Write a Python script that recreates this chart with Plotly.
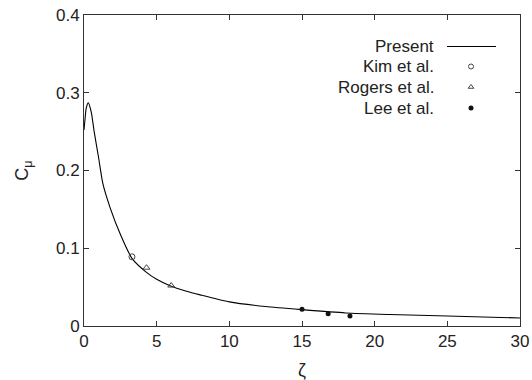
import plotly.graph_objects as go

# Present model curve
zeta_present = [0, 0.08, 0.15, 0.3, 0.5, 0.7, 1.0, 1.3, 1.8, 2.5, 3.3, 4.3, 5.0, 6.0, 7.0, 8.0,
                10.0, 12.5, 15.0, 18.0, 21.0, 25.0, 30.0]
cmu_present = [0.252, 0.268, 0.280, 0.287, 0.275, 0.250, 0.217, 0.183, 0.152, 0.118, 0.087,
               0.069, 0.060, 0.051, 0.045, 0.040, 0.031, 0.025, 0.0210, 0.0168, 0.0148,
               0.0129, 0.0103]

zeta_kim = [3.3]
cmu_kim = [0.089]

zeta_rogers = [4.3, 6.0]
cmu_rogers = [0.075, 0.052]

zeta_lee = [15.0, 16.8, 18.3]
cmu_lee = [0.0215, 0.0158, 0.0129]

legend_names = ["Present", "Kim et al.", "Rogers et al.", "Lee et al."]

x_ticks = [0, 5, 10, 15, 20, 25, 30]
y_ticks = [0, 0.1, 0.2, 0.3, 0.4]

W, H = 532, 380
ML, MR, MT, MB = 84, 12, 15, 54
ink = "#222222"
font = "Liberation Sans, Arial, sans-serif"

fig = go.Figure()
fig.add_trace(go.Scatter(x=zeta_present, y=cmu_present, mode="lines",
                         line=dict(color="black", width=1.1, shape="spline", smoothing=0.6),
                         showlegend=False))
fig.add_trace(go.Scatter(x=zeta_kim, y=cmu_kim, mode="markers",
                         marker=dict(symbol="circle-open", size=6, color="#444",
                                     line=dict(width=1, color="#444")), showlegend=False))
fig.add_trace(go.Scatter(x=zeta_rogers, y=cmu_rogers, mode="markers",
                         marker=dict(symbol="triangle-up-open", size=6, color="#444",
                                     line=dict(width=1, color="#444")), showlegend=False))
fig.add_trace(go.Scatter(x=zeta_lee, y=cmu_lee, mode="markers",
                         marker=dict(symbol="circle", size=5, color="#111"), showlegend=False))

# Custom legend (text left of key), in an overlay axis with pixel-like range
pw, ph = W - ML - MR, H - MT - MB
def px_x(x):
    return (x - ML) / pw
def px_y(y):
    return (H - MB - y) / ph

rows_y = [46.5, 66.5, 87, 108]
text_right = 436
key_x = 471
for name, yy in zip(legend_names, rows_y):
    fig.add_annotation(x=px_x(text_right), y=px_y(yy), xref="paper", yref="paper",
                       text=name, showarrow=False, xanchor="right", yanchor="middle",
                       font=dict(family=font, size=17, color=ink))
fig.add_shape(type="line", xref="paper", yref="paper",
              x0=px_x(447), x1=px_x(496), y0=px_y(rows_y[0]), y1=px_y(rows_y[0]),
              line=dict(color="black", width=1.1))
fig.add_trace(go.Scatter(x=[px_x(key_x)], y=[px_y(rows_y[1])], xaxis="x2", yaxis="y2",
                         mode="markers", showlegend=False,
                         marker=dict(symbol="circle-open", size=5, color="#444",
                                     line=dict(width=1, color="#444"))))
fig.add_trace(go.Scatter(x=[px_x(key_x)], y=[px_y(rows_y[2])], xaxis="x2", yaxis="y2",
                         mode="markers", showlegend=False,
                         marker=dict(symbol="triangle-up-open", size=5, color="#444",
                                     line=dict(width=1, color="#444"))))
fig.add_trace(go.Scatter(x=[px_x(key_x)], y=[px_y(rows_y[3])], xaxis="x2", yaxis="y2",
                         mode="markers", showlegend=False,
                         marker=dict(symbol="circle", size=5, color="#111")))

axis_common = dict(showgrid=False, zeroline=False, showline=True, linecolor="#333",
                   linewidth=1, mirror="ticks", ticks="inside", ticklen=5, tickcolor="#333",
                   automargin=False,
                   tickfont=dict(family=font, size=17, color=ink))

fig.update_layout(
    width=W, height=H,
    margin=dict(l=ML, r=MR, t=MT, b=MB),
    paper_bgcolor="white", plot_bgcolor="white",
    showlegend=False,
    xaxis=dict(range=[0, 30], tickvals=x_ticks, ticktext=[str(v) for v in x_ticks],
               title=dict(text="ζ", font=dict(family=font, size=18, color=ink), standoff=14),
               **axis_common),
    yaxis=dict(range=[0, 0.4], tickvals=y_ticks, ticktext=["0", "0.1", "0.2", "0.3", "0.4"],
               title=dict(text="C<sub>μ</sub>", font=dict(family=font, size=18, color=ink),
                          standoff=22),
               **axis_common),
    xaxis2=dict(range=[0, 1], overlaying="x", visible=False, fixedrange=True),
    yaxis2=dict(range=[0, 1], overlaying="y", visible=False, fixedrange=True),
)

fig.write_html("out.html")
